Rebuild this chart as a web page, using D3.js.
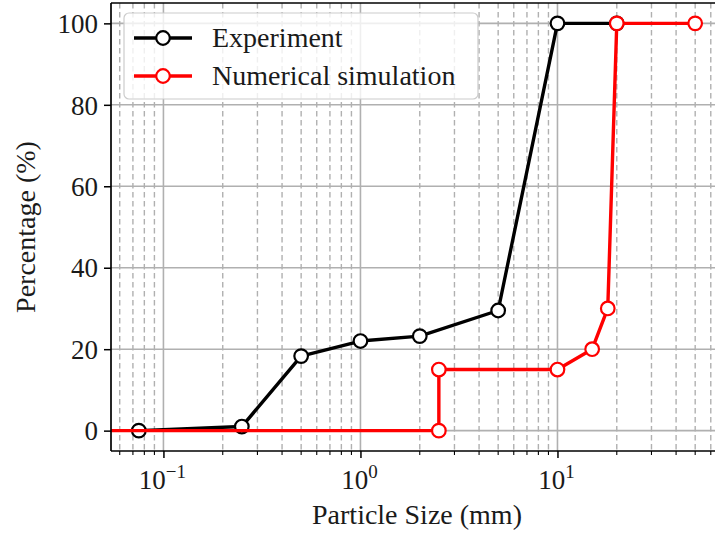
<!DOCTYPE html>
<html>
<head>
<meta charset="utf-8">
<script src="https://cdn.jsdelivr.net/npm/d3@7"></script>
<style>
  html, body { margin: 0; padding: 0; background: #fff; }
  svg { display: block; }
  text { font-family: "Liberation Serif", "Times New Roman", serif; fill: #1a1a1a; }
</style>
</head>
<body>
<svg id="chart" width="715" height="536"></svg>
<script>
// Particle size distribution (cumulative percentage passing)
const expSize = [0.075, 0.25, 0.5, 1, 2, 5, 10, 20];
const expPct  = [0, 1, 18.3, 22, 23.2, 29.5, 100, 100];

// Simulation curve; the first point sits at size 0 and is clipped to the left edge on a log axis
const simSize = [0, 2.5, 2.5, 10, 15, 18, 20, 50];
const simPct  = [0, 0, 15, 15, 20, 30, 100, 100];

const seriesNames = ["Experiment", "Numerical simulation"];
const seriesColors = ["#000000", "#ff0000"];
const yTicks = [0, 20, 40, 60, 80, 100];
const xMajorTicks = [0.1, 1, 10];
const xMajorExp = ["\u22121", "0", "1"];

const svg = d3.select("#chart");
const pLeft = 111, pTop = 3, pBottom = 451, pRight = 723;

// Axis limits with 5% margins (in log space for x)
const lx0 = Math.log10(d3.min(expSize.concat(simSize.filter(v => v > 0))));
const lx1 = Math.log10(d3.max(expSize.concat(simSize)));
const mx = (lx1 - lx0) * 0.05;
const x = d3.scaleLog().domain([Math.pow(10, lx0 - mx), Math.pow(10, lx1 + mx)]).range([pLeft, pRight]);
const y = d3.scaleLinear().domain([-5, 105]).range([pBottom, pTop]);

const xPos = v => v > 0 ? x(v) : pLeft - 5; // non-positive sizes clip to the axis edge

svg.append("defs").append("clipPath").attr("id", "plotclip")
  .append("rect").attr("x", pLeft).attr("y", pTop).attr("width", pRight - pLeft).attr("height", pBottom - pTop);

// Minor x positions (2..9 per decade)
const minor = [];
for (let e = -2; e <= 2; e++) {
  for (let m = 2; m <= 9; m++) {
    const v = m * Math.pow(10, e);
    if (v >= x.domain()[0] && v <= x.domain()[1]) minor.push(v);
  }
}

const grid = svg.append("g").attr("clip-path", "url(#plotclip)");
grid.selectAll(".gminor").data(minor).enter().append("line")
  .attr("x1", d => x(d)).attr("x2", d => x(d)).attr("y1", pTop).attr("y2", pBottom)
  .attr("stroke", "#b0b0b0").attr("stroke-width", 1.4).attr("stroke-dasharray", "5.5,3.5");
grid.selectAll(".gmajx").data(xMajorTicks).enter().append("line")
  .attr("x1", d => x(d)).attr("x2", d => x(d)).attr("y1", pTop).attr("y2", pBottom)
  .attr("stroke", "#b0b0b0").attr("stroke-width", 1.6);
grid.selectAll(".gmajy").data(yTicks).enter().append("line")
  .attr("x1", pLeft).attr("x2", pRight).attr("y1", d => y(d)).attr("y2", d => y(d))
  .attr("stroke", "#b0b0b0").attr("stroke-width", 1.6);

// Series
const series = [
  { sizes: expSize, pct: expPct, color: seriesColors[0] },
  { sizes: simSize, pct: simPct, color: seriesColors[1] }
];
const plot = svg.append("g").attr("clip-path", "url(#plotclip)");
const line = d3.line().x(d => xPos(d[0])).y(d => y(d[1]));
series.forEach(s => {
  const pts = s.sizes.map((v, i) => [v, s.pct[i]]);
  plot.append("path").datum(pts).attr("d", line)
    .attr("fill", "none").attr("stroke", s.color).attr("stroke-width", 3.4)
    .attr("stroke-linejoin", "round");
  plot.selectAll(null).data(pts.filter(p => p[0] > 0)).enter().append("circle")
    .attr("cx", d => x(d[0])).attr("cy", d => y(d[1])).attr("r", 6.8)
    .attr("fill", "#fff").attr("stroke", s.color).attr("stroke-width", 2.2);
});

// Spines
const spines = svg.append("g").attr("stroke", "#000").attr("stroke-width", 1.7);
spines.append("line").attr("x1", pLeft).attr("x2", pLeft).attr("y1", pTop).attr("y2", pBottom);
spines.append("line").attr("x1", pLeft).attr("x2", pRight).attr("y1", pBottom).attr("y2", pBottom);
spines.append("line").attr("x1", pLeft).attr("x2", pRight).attr("y1", pTop).attr("y2", pTop);

// Y axis
const yAxis = svg.append("g").attr("transform", `translate(${pLeft},0)`)
  .call(d3.axisLeft(y).tickValues(yTicks).tickSize(7).tickPadding(6).tickFormat(d3.format("d")));
yAxis.select(".domain").remove();
yAxis.selectAll(".tick line").attr("stroke", "#000").attr("stroke-width", 1.5);
yAxis.selectAll(".tick text").attr("font-size", 27).attr("font-family", "Liberation Serif")
  .attr("fill", "#1a1a1a").attr("dy", "0.34em");

// X axis: major ticks with power labels, plus minor ticks
const xAxis = svg.append("g").attr("transform", `translate(0,${pBottom})`)
  .call(d3.axisBottom(x).tickValues(xMajorTicks).tickSize(7).tickFormat(() => ""));
xAxis.select(".domain").remove();
xAxis.selectAll(".tick line").attr("stroke", "#000").attr("stroke-width", 1.5);
xAxis.selectAll(".mtick").data(minor).enter().append("line")
  .attr("x1", d => x(d)).attr("x2", d => x(d)).attr("y1", 0).attr("y2", 4)
  .attr("stroke", "#000").attr("stroke-width", 1.1);
xMajorTicks.forEach((v, i) => {
  const t = svg.append("text").attr("x", x(v) - 1).attr("y", 489)
    .attr("text-anchor", "middle").attr("font-size", 27);
  t.append("tspan").text("10");
  t.append("tspan").attr("font-size", 19).attr("dy", -11).text(xMajorExp[i]);
});

// Axis titles
svg.append("text").attr("x", (pLeft + pRight) / 2).attr("y", 524)
  .attr("text-anchor", "middle").attr("font-size", 28).text("Particle Size (mm)");
svg.append("text").attr("transform", `translate(35,${(pTop + pBottom) / 2}) rotate(-90)`)
  .attr("text-anchor", "middle").attr("font-size", 28).text("Percentage (%)");

// Legend
const lg = svg.append("g");
lg.append("rect").attr("x", 124).attr("y", 13).attr("width", 354).attr("height", 86)
  .attr("rx", 5).attr("fill", "#fff").attr("fill-opacity", 0.8)
  .attr("stroke", "#cccccc").attr("stroke-width", 1.2);
seriesNames.forEach((name, i) => {
  const ly = 38 + i * 38;
  lg.append("line").attr("x1", 134).attr("x2", 192).attr("y1", ly).attr("y2", ly)
    .attr("stroke", seriesColors[i]).attr("stroke-width", 3.4);
  lg.append("circle").attr("cx", 163).attr("cy", ly).attr("r", 6.8)
    .attr("fill", "#fff").attr("stroke", seriesColors[i]).attr("stroke-width", 2.2);
  lg.append("text").attr("x", 212).attr("y", ly + 9).attr("font-size", 28).text(name);
});
</script>
</body>
</html>
